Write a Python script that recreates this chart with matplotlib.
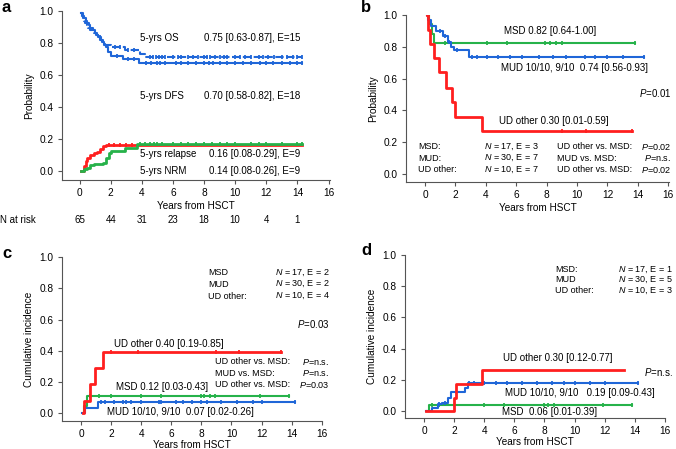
import numpy as np
import matplotlib
matplotlib.use('Agg')
import matplotlib.pyplot as plt

plt.rcParams['font.family'] = ['Liberation Sans', 'DejaVu Sans']
plt.rcParams['mathtext.fontset'] = 'custom'
plt.rcParams['mathtext.rm'] = 'Liberation Sans'
plt.rcParams['mathtext.it'] = 'Liberation Sans:italic'

BLUE = '#1f66d8'
RED = '#ff1f1f'
GREEN = '#26b24a'
FS = 7.0      # annotation text
FT = 6.5      # small tables

# ---- panel a: OS / DFS / relapse / NRM ----
a_os_t = [0.1, 0.15, 0.2, 0.3, 0.35, 0.45, 0.55, 0.7, 0.9, 1.05, 1.2, 1.35, 1.5, 1.65, 2.0, 2.9, 3.9, 4.2]
a_os_v = [0.985, 0.97, 0.955, 0.94, 0.925, 0.91, 0.895, 0.88, 0.865, 0.85, 0.835, 0.82, 0.805, 0.79, 0.776, 0.755, 0.734, 0.714]
a_os_end = 14.3
a_os_cens = [1.3, 2.3, 2.6, 3.1, 3.5, 4.5, 4.7, 4.9, 5.1, 5.3, 5.5, 6.0, 6.3, 6.5, 7.0, 7.3, 7.6, 8.0, 8.2,
             8.4, 8.7, 9.0, 9.3, 9.5, 10.0, 10.3, 10.6, 11.0, 11.5, 11.8, 12.1, 12.5, 13.0, 13.3, 13.7, 14.0, 14.3]

a_dfs_t = [0.1, 0.2, 0.3, 0.4, 0.5, 0.6, 0.7, 0.85, 1.0, 1.1, 1.2, 1.3, 1.45, 1.6, 1.7, 1.8, 2.0, 2.8, 3.8]
a_dfs_v = [0.985, 0.97, 0.955, 0.94, 0.925, 0.91, 0.895, 0.88, 0.865, 0.85, 0.835, 0.82, 0.805, 0.79, 0.775,
           0.745, 0.718, 0.698, 0.678]
a_dfs_end = 14.3
a_dfs_cens = [2.4, 3.1, 3.5, 4.3, 4.6, 5.0, 5.2, 5.5, 6.2, 6.5, 7.0, 7.5, 8.0, 8.3, 8.6, 9.0, 9.5, 10.0,
              10.5, 11.0, 11.6, 12.0, 12.4, 13.0, 13.5, 14.0, 14.3]

a_rel_t = [0.1, 0.3, 0.4, 0.5, 0.7, 0.9, 1.1, 1.3, 1.5, 1.7]
a_rel_v = [0.0, 0.03, 0.06, 0.08, 0.10, 0.11, 0.12, 0.14, 0.155, 0.16]
a_rel_end = 14.3
a_rel_cens = [1.9, 2.2, 2.6, 3.0, 3.4]

a_nrm_t = [0.1, 0.3, 0.5, 0.7, 0.9, 1.5, 1.7, 1.9, 2.0, 2.9, 3.7]
a_nrm_v = [0.0, 0.01, 0.02, 0.035, 0.045, 0.05, 0.08, 0.11, 0.125, 0.145, 0.17]
a_nrm_end = 14.3
a_nrm_cens = [3.9, 4.2, 4.5, 4.8, 5.0, 5.3, 6.0, 6.5, 7.0, 7.5, 8.0, 8.5, 9.0, 9.5, 10.0, 11.0, 11.5, 12.0,
              13.0, 14.0, 14.3]

risk_years = [0, 2, 4, 6, 8, 10, 12, 14]
risk_n = [65, 44, 31, 23, 18, 10, 4, 1]

# ---- panel b: OS by donor ----
b_msd_t = [0.15, 0.25, 0.45, 0.6]
b_msd_v = [1.0, 0.941, 0.882, 0.824]
b_msd_end = 13.8
b_msd_cens = [1.3, 4.1, 5.4, 7.9, 8.2, 8.6, 9.0, 13.8]

b_mud_t = [0.15, 0.2, 0.4, 0.7, 1.2, 1.5, 1.7, 1.9, 2.9]
b_mud_v = [1.0, 0.967, 0.933, 0.90, 0.867, 0.833, 0.80, 0.778, 0.735]
b_mud_end = 14.4
b_mud_cens = [1.0, 1.3, 1.6, 2.1, 3.1, 3.4, 4.1, 4.8, 5.6, 6.4, 7.5, 8.4, 9.3, 10.5, 11.2, 12.0, 13.0, 14.4]

b_ud_t = [0.1, 0.18, 0.3, 0.6, 0.9, 1.38, 1.78, 1.96, 3.78]
b_ud_v = [1.0, 0.905, 0.82, 0.727, 0.639, 0.542, 0.45, 0.359, 0.269]
b_ud_end = 13.6
b_ud_cens = [9.0, 10.6, 13.6]

# ---- panel c: relapse by donor ----
c_ud_t = [0.15, 0.2, 0.6, 0.93, 1.48]
c_ud_v = [0.0, 0.08, 0.185, 0.29, 0.39]
c_ud_end = 13.3
c_ud_cens = [2.0, 3.8, 9.0, 10.5, 13.3]

c_msd_t = [0.15, 0.2, 0.42]
c_msd_v = [0.0, 0.045, 0.112]
c_msd_end = 13.8
c_msd_cens = [0.6, 1.2, 2.0, 4.0, 5.3, 8.0, 8.2, 8.6, 8.9, 11.9, 13.8]

c_mud_t = [0.05, 0.25, 1.15]
c_mud_v = [0.0, 0.035, 0.07]
c_mud_end = 14.2
c_mud_cens = [1.3, 1.6, 2.2, 2.8, 3.0, 3.3, 4.0, 5.2, 5.3, 6.3, 6.8, 7.4, 8.0, 8.4, 9.3, 10.4, 11.4, 12.0, 14.2]

# ---- panel d: NRM by donor ----
d_ud_t = [0.15, 2.0, 2.1, 3.85]
d_ud_v = [0.0, 0.085, 0.17, 0.265]
d_ud_end = 13.3
d_ud_cens = []

d_mud_t = [0.1, 0.55, 0.9, 1.2, 1.6, 1.8, 2.7, 2.9]
d_mud_v = [0.0, 0.02, 0.045, 0.05, 0.085, 0.125, 0.145, 0.177]
d_mud_end = 14.2
d_mud_cens = [1.0, 1.4, 3.0, 3.3, 4.0, 4.8, 5.5, 6.5, 7.5, 8.5, 9.3, 10.0, 11.0, 12.0, 14.2]

d_msd_t = [0.2, 0.3]
d_msd_v = [0.0, 0.038]
d_msd_end = 13.8
d_msd_cens = [0.5, 1.0, 4.0, 5.3, 8.0, 8.2, 8.6, 11.9, 13.8]


def step(ax, t, v, end, cens, color, lw=1.5, **kw):
    tt = list(t) + [end]
    vv = list(v) + [v[-1]]
    ax.plot(tt, vv, drawstyle='steps-post', color=color, lw=lw, **kw)
    if len(cens):
        idx = np.searchsorted(t, cens, side='right') - 1
        ax.plot(cens, np.asarray(v)[idx], ls='none', marker='|', ms=3.5, mew=1.3, color=color)


def style(ax, ylabel, xlim, ylim, xpad=2):
    for s in ['top', 'right']:
        ax.spines[s].set_visible(False)
    for s in ['left', 'bottom']:
        ax.spines[s].set_color('#555555')
        ax.spines[s].set_linewidth(0.8)
    ax.set_xlim(*xlim)
    ax.set_ylim(*ylim)
    ax.set_xticks(range(0, 17, 2))
    ax.set_yticks([0, 0.2, 0.4, 0.6, 0.8, 1.0])
    ax.set_yticklabels(['0.0', '0.2', '0.4', '0.6', '0.8', '1.0'])
    ax.tick_params(labelsize=7.3, length=3, width=0.8, color='#555555', pad=3)
    ax.set_xlabel('Years from HSCT', fontsize=7.2, labelpad=xpad)
    ax.set_ylabel(ylabel, fontsize=7.2, labelpad=4)


fig = plt.figure(figsize=(6.76, 4.49), dpi=100)
ax_a = fig.add_axes([0.0917, 0.599, 0.3966, 0.3765])
ax_b = fig.add_axes([0.6006, 0.5947, 0.389, 0.3719])
ax_c = fig.add_axes([0.0917, 0.062, 0.3843, 0.3656])
ax_d = fig.add_axes([0.5987, 0.069, 0.385, 0.363])

# panel a
style(ax_a, 'Probability', (-1.13, 16.1), (-0.056, 1.0))
step(ax_a, a_dfs_t, a_dfs_v, a_dfs_end, a_dfs_cens, BLUE)
step(ax_a, a_os_t, a_os_v, a_os_end, a_os_cens, BLUE, dashes=(4, 1.2))
step(ax_a, a_rel_t, a_rel_v, a_rel_end, a_rel_cens, RED, lw=2)
step(ax_a, a_nrm_t, a_nrm_v, a_nrm_end, a_nrm_cens, GREEN, lw=2)
for lab, val, y in [('5-yrs OS', '0.75 [0.63-0.87], E=15', 0.832),
                    ('5-yrs DFS', '0.70 [0.58-0.82], E=18', 0.471),
                    ('5-yrs relapse', '0.16 [0.08-0.29], E=9', 0.108),
                    ('5-yrs NRM', '0.14 [0.08-0.26], E=9', 0.0)]:
    ax_a.text(3.9, y, lab, fontsize=FS, va='center', ha='left')
    ax_a.text(14.2, y, val, fontsize=FS, va='center', ha='right')
for yr, n in zip(risk_years, risk_n):
    ax_a.text(yr, -0.237, str(n), transform=ax_a.get_xaxis_transform(), fontsize=FS, ha='center', va='center')
fig.text(0.0, 1 - 220 / 449, 'N at risk', fontsize=FS, ha='left', va='center')

# panel b
style(ax_b, 'Probability', (-1.25, 16.05), (-0.05, 1.0))
step(ax_b, b_msd_t, b_msd_v, b_msd_end, b_msd_cens, GREEN)
step(ax_b, b_mud_t, b_mud_v, b_mud_end, b_mud_cens, BLUE)
step(ax_b, b_ud_t, b_ud_v, b_ud_end, b_ud_cens, RED, lw=2)
ax_b.text(5.2, 0.90, 'MSD 0.82 [0.64-1.00]', fontsize=FS, va='center')
ax_b.text(5.0, 0.668, 'MUD 10/10, 9/10  0.74 [0.56-0.93]', fontsize=FS, va='center')
ax_b.text(16.2, 0.51, '$P$=0.01', fontsize=FS, va='center', ha='right')
ax_b.text(4.84, 0.334, 'UD other 0.30 [0.01-0.59]', fontsize=FS, va='center')
rows_b = [('MSD:', '$N$ = 17, E = 3', 'UD other vs. MSD:', '$P$=0.02'),
          ('MUD:', '$N$ = 30, E = 7', 'MUD vs. MSD:', '$P$=n.s.'),
          ('UD other:', '$N$ = 10, E = 7', 'UD other vs. MSD:', '$P$=0.02')]
for (g, n, cmp_, p), y in zip(rows_b, [0.17, 0.099, 0.027]):
    ax_b.text(-0.44, y, g, fontsize=FT, va='center')
    ax_b.text(3.9, y, n, fontsize=FT, va='center')
    ax_b.text(8.67, y, cmp_, fontsize=FT, va='center')
    ax_b.text(16.2, y, p, fontsize=FT, va='center', ha='right')

# panel c
style(ax_c, 'Cumulative incidence', (-1.26, 16.0), (-0.05, 1.0), xpad=0.5)
step(ax_c, c_msd_t, c_msd_v, c_msd_end, c_msd_cens, GREEN)
step(ax_c, c_mud_t, c_mud_v, c_mud_end, c_mud_cens, BLUE)
step(ax_c, c_ud_t, c_ud_v, c_ud_end, c_ud_cens, RED, lw=2)
for g, n, y in [('MSD', '$N$ = 17, E = 2', 0.898), ('MUD', '$N$ = 30, E = 2', 0.826),
                ('UD other:', '$N$ = 10, E = 4', 0.75)]:
    ax_c.text(8.45, y, g, fontsize=FT, va='center')
    ax_c.text(16.5, y, n, fontsize=FT, va='center', ha='right')
ax_c.text(16.5, 0.573, '$P$=0.03', fontsize=FS, va='center', ha='right')
ax_c.text(2.2, 0.444, 'UD other 0.40 [0.19-0.85]', fontsize=FS, va='center')
for cmp_, p, y in [('UD other vs. MSD:', '$P$=n.s.', 0.329), ('MUD vs. MSD:', '$P$=n.s.', 0.257),
                   ('UD other vs. MSD:', '$P$=0.03', 0.183)]:
    ax_c.text(8.9, y, cmp_, fontsize=FT, va='center')
    ax_c.text(16.5, y, p, fontsize=FT, va='center', ha='right')
ax_c.text(2.3, 0.168, 'MSD 0.12 [0.03-0.43]', fontsize=FS, va='center')
ax_c.text(1.7, 0.006, 'MUD 10/10, 9/10  0.07 [0.02-0.26]', fontsize=FS, va='center')

# panel d
style(ax_d, 'Cumulative incidence', (-1.28, 16.0), (-0.045, 1.0), xpad=0.5)
step(ax_d, d_msd_t, d_msd_v, d_msd_end, d_msd_cens, GREEN)
step(ax_d, d_mud_t, d_mud_v, d_mud_end, d_mud_cens, BLUE)
step(ax_d, d_ud_t, d_ud_v, d_ud_end, d_ud_cens, RED, lw=2)
for g, n, y in [('MSD:', '$N$ = 17, E = 1', 0.908), ('MUD', '$N$ = 30, E = 5', 0.84),
                ('UD other:', '$N$ = 10, E = 3', 0.77)]:
    ax_d.text(8.7, y, g, fontsize=FT, va='center')
    ax_d.text(12.9, y, n, fontsize=FT, va='center')
ax_d.text(5.25, 0.342, 'UD other 0.30 [0.12-0.77]', fontsize=FS, va='center')
ax_d.text(14.6, 0.252, '$P$=n.s.', fontsize=FS, va='center')
ax_d.text(5.37, 0.118, 'MUD 10/10, 9/10   0.19 [0.09-0.43]', fontsize=FS, va='center')
ax_d.text(5.2, -0.004, 'MSD  0.06 [0.01-0.39]', fontsize=FS, va='center')

# panel letters
for lab, x, y in [('a', 2, 8), ('b', 361, 8), ('c', 2, 253), ('d', 361, 251)]:
    fig.text(x / 676, 1 - y / 449, lab, fontsize=12, fontweight='bold', ha='left', va='center')

fig.savefig('out.png', dpi=100)
